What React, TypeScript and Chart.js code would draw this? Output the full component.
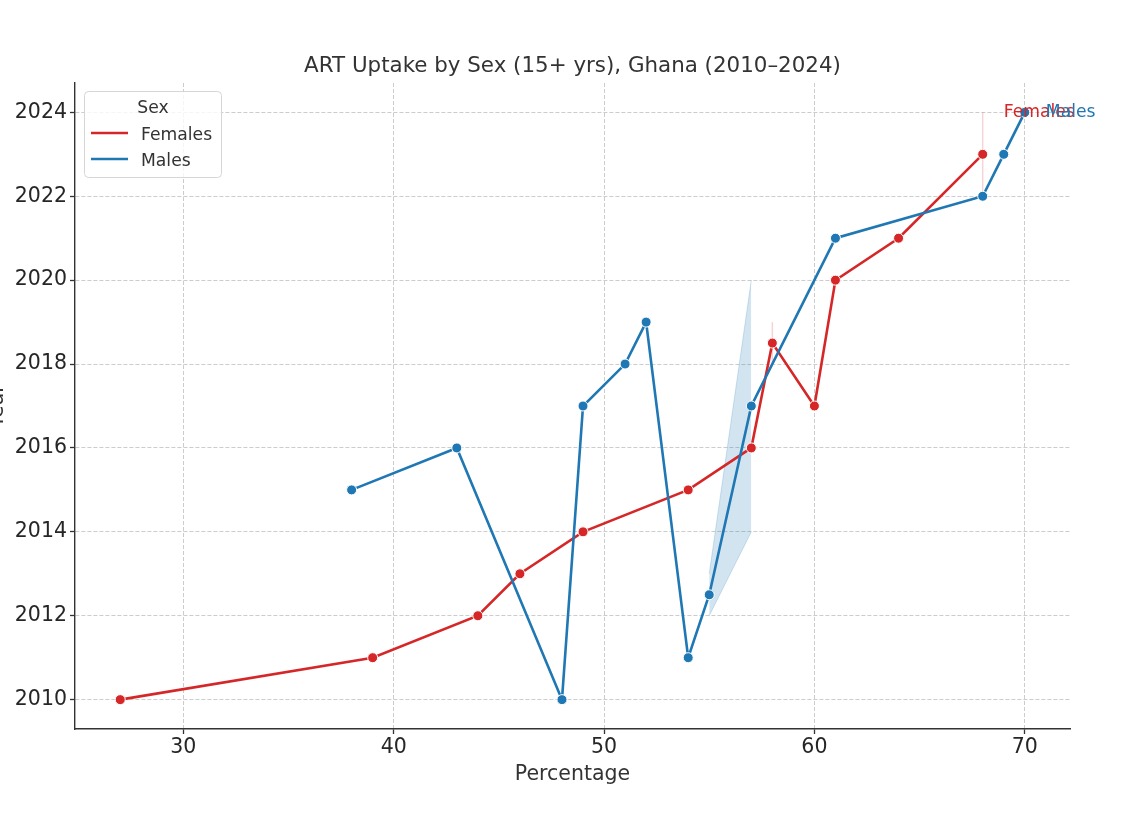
import { useEffect, useRef } from "react"
import { Chart, registerables, type Plugin, type ChartConfiguration } from "chart.js"

Chart.register(...registerables)

const FONT = "'DejaVu Sans', sans-serif"

// Percentage (x) and year (y) per sex, ordered by percentage
const femaleX = [27, 39, 44, 46, 49, 54, 57, 58, 60, 61, 64, 68]
const femaleYear = [2010, 2011, 2012, 2013, 2014, 2015, 2016, 2018.5, 2017, 2020, 2021, 2023]
const maleX = [38, 43, 48, 49, 51, 52, 54, 55, 57, 61, 68, 69, 70]
const maleYear = [2015, 2016, 2010, 2017, 2018, 2019, 2011, 2012.5, 2017, 2021, 2022, 2023, 2024]

// error bands where a percentage repeats
const femaleBandX = [58, 68]
const femaleBandLow = [2018, 2022]
const femaleBandHigh = [2019, 2024]
const maleBandX = [55, 57]
const maleBandLow = [2012, 2014]
const maleBandHigh = [2013, 2020]

const xTicks = [30, 40, 50, 60, 70]
const yTicks = [2010, 2012, 2014, 2016, 2018, 2020, 2022, 2024]

const seriesNames = ["Females", "Males"]
const seriesColors = ["#d62728", "#1f77b4"]
const bandColors = ["rgba(214, 39, 40, 0.2)", "rgba(31, 119, 180, 0.2)"]

// end-of-line text labels (data coords)
const endLabelX = [69, 71]
const endLabelYear = [2024, 2024]

const toPoints = (xs: number[], ys: number[]) => xs.map((x, i) => ({ x, y: ys[i] }))

const decorations: Plugin = {
  id: "decorations",
  afterDatasetsDraw(chart) {
    const { ctx, scales } = chart
    ctx.save()
    ctx.font = `17.2px ${FONT}`
    ctx.textAlign = "left"
    ctx.textBaseline = "middle"
    seriesNames.forEach((name, i) => {
      ctx.fillStyle = seriesColors[i]
      ctx.fillText(name, scales.x.getPixelForValue(endLabelX[i]), scales.y.getPixelForValue(endLabelYear[i]))
    })
    ctx.restore()
  },
  afterDraw(chart) {
    const { ctx, chartArea } = chart
    const midX = (chartArea.left + chartArea.right) / 2
    const midY = (chartArea.top + chartArea.bottom) / 2
    ctx.save()
    ctx.fillStyle = "#333"

    // title
    ctx.font = `21.4px ${FONT}`
    ctx.textAlign = "center"
    ctx.textBaseline = "alphabetic"
    ctx.fillText("ART Uptake by Sex (15+ yrs), Ghana (2010–2024)", midX, 72)

    // axis titles
    ctx.font = `20.5px ${FONT}`
    ctx.fillText("Percentage", midX, 780)
    ctx.save()
    ctx.translate(3, midY)
    ctx.rotate(-Math.PI / 2)
    ctx.fillText("Year", 0, 0)
    ctx.restore()

    // legend box
    const bx = chartArea.left + 9
    const by = chartArea.top + 8
    ctx.beginPath()
    ctx.roundRect(bx + 0.5, by + 0.5, 137, 86, 4)
    ctx.fillStyle = "rgba(255, 255, 255, 0.8)"
    ctx.fill()
    ctx.strokeStyle = "#d6d6d6"
    ctx.lineWidth = 1
    ctx.stroke()

    ctx.fillStyle = "#333"
    ctx.font = `17.2px ${FONT}`
    ctx.textAlign = "center"
    ctx.fillText("Sex", bx + 69, by + 22)
    ctx.textAlign = "left"
    seriesNames.forEach((name, i) => {
      const ly = by + 42 + i * 26
      ctx.strokeStyle = seriesColors[i]
      ctx.lineWidth = 2.6
      ctx.beginPath()
      ctx.moveTo(bx + 7, ly)
      ctx.lineTo(bx + 44, ly)
      ctx.stroke()
      ctx.fillStyle = "#333"
      ctx.fillText(name, bx + 57, ly + 7)
    })
    ctx.restore()
  },
}

export default function App() {
  const canvasRef = useRef<HTMLCanvasElement>(null)
  const chartRef = useRef<Chart | null>(null)

  useEffect(() => {
    if (!canvasRef.current) return
    if (chartRef.current) chartRef.current.destroy()

    const lineStyle = (color: string) => ({
      borderColor: color,
      backgroundColor: color,
      borderWidth: 2.6,
      pointRadius: 5,
      pointBorderColor: "#fff",
      pointBorderWidth: 1,
      pointBackgroundColor: color,
      fill: false,
      tension: 0,
    })

    const femaleBands = femaleBandX.map((x, i) => ({
      label: "femaleBand" + i,
      data: [
        { x, y: femaleBandLow[i] },
        { x, y: femaleBandHigh[i] },
      ],
      borderColor: bandColors[0],
      borderWidth: 1.5,
      pointRadius: 0,
      fill: false,
      order: 5,
    }))

    const gridOpts = {
      color: "#cccccc",
      lineWidth: 1,
      tickLength: 5,
      tickColor: "#333",
      tickWidth: 1.3,
    }
    const borderOpts = { display: true, color: "#333", width: 1.4, dash: [4, 2] }

    const config: ChartConfiguration<"line"> = {
      type: "line",
      data: {
        datasets: [
          { label: "Males", data: toPoints(maleX, maleYear), ...lineStyle(seriesColors[1]), order: 0 },
          { label: "Females", data: toPoints(femaleX, femaleYear), ...lineStyle(seriesColors[0]), order: 1 },
          ...femaleBands,
          {
            label: "maleLow",
            data: toPoints(maleBandX, maleBandLow),
            borderColor: bandColors[1],
            borderWidth: 1,
            pointRadius: 0,
            fill: false,
            order: 3,
          },
          {
            label: "maleHigh",
            data: toPoints(maleBandX, maleBandHigh),
            borderColor: bandColors[1],
            backgroundColor: bandColors[1],
            borderWidth: 1,
            pointRadius: 0,
            fill: "-1",
            order: 4,
          },
        ],
      },
      options: {
        animation: false,
        responsive: true,
        maintainAspectRatio: false,
        layout: { padding: { top: 83, right: 54, left: 0, bottom: 0 } },
        plugins: {
          legend: { display: false },
          tooltip: { enabled: false },
          title: { display: false },
        },
        scales: {
          x: {
            type: "linear",
            min: 24.85,
            max: 72.15,
            afterBuildTicks: (scale) => {
              scale.ticks = xTicks.map((value) => ({ value }))
            },
            afterFit: (scale) => {
              scale.height = 91
            },
            ticks: {
              color: "#262626",
              font: { family: FONT, size: 20.5 },
              padding: 1,
              maxRotation: 0,
              callback: (v) => String(v),
            },
            grid: gridOpts,
            border: borderOpts,
          },
          y: {
            type: "linear",
            min: 2009.3,
            max: 2024.7,
            afterBuildTicks: (scale) => {
              scale.ticks = yTicks.map((value) => ({ value }))
            },
            afterFit: (scale) => {
              scale.width = 75
            },
            ticks: {
              color: "#262626",
              font: { family: FONT, size: 20.5 },
              padding: 3,
              callback: (v) => String(v),
            },
            grid: gridOpts,
            border: borderOpts,
          },
        },
      },
      plugins: [decorations],
    }

    chartRef.current = new Chart(canvasRef.current, config)

    return () => {
      if (chartRef.current) {
        chartRef.current.destroy()
        chartRef.current = null
      }
    }
  }, [])

  return (
    <div style={{ position: "fixed", left: 0, top: 0, width: 1124, height: 820, background: "#fff" }}>
      <canvas ref={canvasRef}></canvas>
    </div>
  )
}
